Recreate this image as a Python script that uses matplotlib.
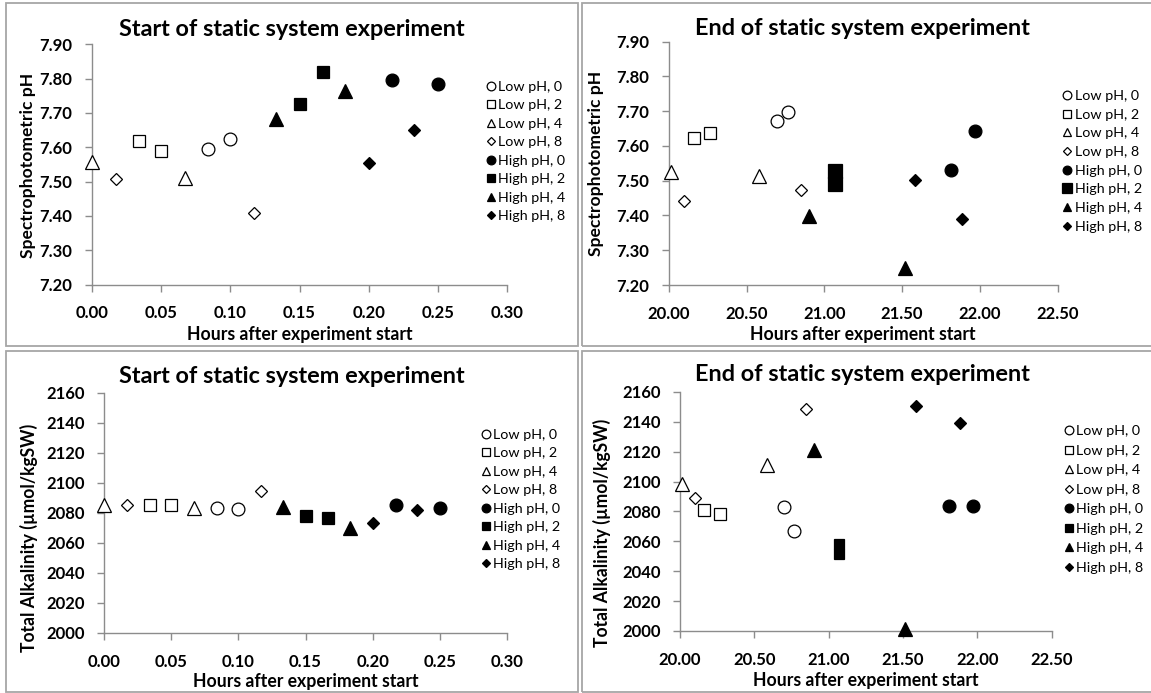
import matplotlib
matplotlib.use('Agg')
import matplotlib.pyplot as plt
from matplotlib.patches import Rectangle
from matplotlib.ticker import FormatStrFormatter

plt.rcParams['font.family'] = ['Lato', 'DejaVu Sans']

# ---------------- data ----------------
labels = ["Low pH, 0", "Low pH, 2", "Low pH, 4", "Low pH, 8",
          "High pH, 0", "High pH, 2", "High pH, 4", "High pH, 8"]

start_hours = [[0.084, 0.100], [0.034, 0.050], [0.000, 0.067], [0.017, 0.117],
               [0.217, 0.250], [0.150, 0.167], [0.133, 0.183], [0.200, 0.233]]
start_ph = [[7.595, 7.624], [7.619, 7.590], [7.556, 7.510], [7.507, 7.408],
            [7.796, 7.785], [7.726, 7.818], [7.683, 7.765], [7.554, 7.651]]
start_ta = [[2082.9, 2082.4], [2085.3, 2084.9], [2084.9, 2083.1], [2085.1, 2094.4],
            [2085.1, 2082.9], [2077.6, 2076.2], [2083.8, 2070.0], [2073.3, 2081.8]]

end_hours = [[20.697, 20.766], [20.164, 20.267], [20.015, 20.583], [20.100, 20.849],
             [21.812, 21.968], [21.066, 21.066], [20.903, 21.516], [21.585, 21.883]]
end_ph = [[7.673, 7.697], [7.622, 7.636], [7.526, 7.514], [7.443, 7.473],
          [7.530, 7.642], [7.527, 7.492], [7.398, 7.248], [7.501, 7.390]]
end_ta = [[2082.8, 2066.9], [2081.2, 2078.1], [2098.2, 2111.1], [2089.3, 2148.8],
          [2083.7, 2083.7], [2058.5, 2051.3], [2121.2, 2001.6], [2150.4, 2139.0]]

start_xticks = [0.00, 0.05, 0.10, 0.15, 0.20, 0.25, 0.30]
end_xticks = [20.00, 20.50, 21.00, 21.50, 22.00, 22.50]
ph_yticks = [7.20, 7.30, 7.40, 7.50, 7.60, 7.70, 7.80, 7.90]
ta_yticks = [2000, 2020, 2040, 2060, 2080, 2100, 2120, 2140, 2160]

title_start = "Start of static system experiment"
title_end = "End of static system experiment"
xlabel = "Hours after experiment start"
ylabel_ph = "Spectrophotometric pH"
ylabel_ta = "Total Alkalinity (\u00b5mol/kgSW)"

# ---------------- style ----------------
W, H = 1151, 693
fig = plt.figure(figsize=(W / 100, H / 100), dpi=100)


def rend():
    return fig.canvas.get_renderer()


def size_for(s, target_px, weight='bold', base=10.0):
    t = fig.text(0, 0, s, fontsize=base, fontweight=weight)
    w = t.get_window_extent(rend()).width
    t.remove()
    return base * target_px / w


FS_TITLE = size_for(title_start, 347)
FS_XLAB = size_for(xlabel, 226)
FS_YLAB_PH = size_for(ylabel_ph, 185)
FS_YLAB_TA = size_for(ylabel_ta, 228)
FS_TICK = size_for("0.00", 33)
FS_LEG = size_for("High pH, 0", 67, weight='normal')

markers = ['o', 's', '^', 'D', 'o', 's', '^', 'D']
fills = ['white'] * 4 + ['black'] * 4
msizes = {'o': 9.2, 's': 9.2, '^': 9.5, 'D': 5.9}
AX_GRAY = '#8c8c8c'


def fr(left, top, right, bottom):
    return [left / W, 1 - bottom / H, (right - left) / W, (bottom - top) / H]


panels = [
    dict(rect=fr(92, 44.3, 507, 284.5), box=(5.7, 3.3, 577.7, 345.7),
         x=start_hours, y=start_ph, xt=start_xticks, yt=ph_yticks,
         xfmt='%.2f', yfmt='%.2f', title=title_start, tpos=(292, 36),
         ylab=ylabel_ph, yfs=FS_YLAB_PH, ylpos=(28, 165), xlb=340,
         leg=(490.5, 86, 215), sq=9.2),
    dict(rect=fr(668.8, 41.7, 1057.5, 285), box=(582.3, 3.3, 1153, 345.7),
         x=end_hours, y=end_ph, xt=end_xticks, yt=ph_yticks,
         xfmt='%.2f', yfmt='%.2f', title=title_end, tpos=(862.4, 35),
         ylab=ylabel_ph, yfs=FS_YLAB_PH, ylpos=(595.5, 163.5), xlb=340,
         leg=(1067.3, 95, 225.7), sq=9.8),
    dict(rect=fr(104, 392.7, 507, 632.7), box=(5.7, 351, 577.7, 692),
         x=start_hours, y=start_ta, xt=start_xticks, yt=ta_yticks,
         xfmt='%.2f', yfmt='%d', title=title_start, tpos=(291.7, 383.3),
         ylab=ylabel_ta, yfs=FS_YLAB_TA, ylpos=(28.5, 537.5), xlb=687.5,
         leg=(485.7, 433.7, 563.3), sq=9.2),
    dict(rect=fr(680.1, 392, 1051.6, 631), box=(582.3, 351, 1153, 692),
         x=end_hours, y=end_ta, xt=end_xticks, yt=ta_yticks,
         xfmt='%.2f', yfmt='%d', title=title_end, tpos=(862.4, 381),
         ylab=ylabel_ta, yfs=FS_YLAB_TA, ylpos=(601.5, 532.7), xlb=686,
         leg=(1068.5, 430.3, 566.7), sq=7.8),
]


def make_legend(ax, handles, anchor, ls):
    return ax.legend(handles=handles, loc='upper left',
                     bbox_to_anchor=(anchor[0] / W, 1 - anchor[1] / H),
                     bbox_transform=fig.transFigure, frameon=False,
                     borderpad=0, borderaxespad=0, handlelength=0.6,
                     handletextpad=0.24, labelspacing=ls, markerscale=0.68,
                     fontsize=FS_LEG)


legend_jobs = []

for p in panels:
    x0, y0, x1, y1 = p['box']
    fig.add_artist(Rectangle((x0 / W, 1 - y1 / H), (x1 - x0) / W, (y1 - y0) / H,
                             transform=fig.transFigure, fill=False,
                             ec='#a6a6a6', lw=1.3))

    ax = fig.add_axes(p['rect'])
    handles = []
    for xs, ys, m, fc, lab in zip(p['x'], p['y'], markers, fills, labels):
        ms = msizes[m]
        if m == 's' and fc == 'black':
            ms = p['sq']
        h, = ax.plot(xs, ys, ls='none', marker=m, ms=ms, mfc=fc, mec='black',
                     mew=0.9, clip_on=False, label=lab, zorder=3)
        handles.append(h)

    ax.set_xlim(p['xt'][0], p['xt'][-1])
    ax.set_ylim(p['yt'][0], p['yt'][-1])
    ax.set_xticks(p['xt'])
    ax.set_yticks(p['yt'])
    ax.xaxis.set_major_formatter(FormatStrFormatter(p['xfmt']))
    ax.yaxis.set_major_formatter(FormatStrFormatter(p['yfmt']))
    for s in ('top', 'right'):
        ax.spines[s].set_visible(False)
    for s in ('left', 'bottom'):
        ax.spines[s].set_color(AX_GRAY)
        ax.spines[s].set_linewidth(1.0)
    ax.tick_params(axis='both', direction='out', length=5, width=1.0,
                   color=AX_GRAY, labelsize=FS_TICK)
    ax.tick_params(axis='x', pad=10)
    ax.tick_params(axis='y', pad=9)
    for t in ax.get_xticklabels() + ax.get_yticklabels():
        t.set_fontweight('bold')

    ax.set_xlabel(xlabel, fontsize=FS_XLAB, fontweight='bold', va='baseline')
    ax.xaxis.set_label_coords((p['rect'][0] + p['rect'][2] / 2), 1 - p['xlb'] / H,
                              transform=fig.transFigure)
    ax.set_ylabel(p['ylab'], fontsize=p['yfs'], fontweight='bold', va='center')
    ax.yaxis.set_label_coords(p['ylpos'][0] / W, 1 - p['ylpos'][1] / H,
                              transform=fig.transFigure)

    fig.text(p['tpos'][0] / W, 1 - p['tpos'][1] / H, p['title'],
             ha='center', va='baseline', fontsize=FS_TITLE, fontweight='bold')

    legend_jobs.append((ax, handles, p['leg']))

# fit legend placement and row spacing to the reference positions
fs_px = FS_LEG * 100 / 72
for ax, handles, (mx, yf, yl) in legend_jobs:
    anchor = [mx - 5, yf - 8]
    ls = 0.4
    for _ in range(3):
        leg = make_legend(ax, handles, anchor, ls)
        fig.canvas.draw()
        r = rend()
        hb = leg.legend_handles
        b0 = hb[0].get_window_extent(r)
        bn = hb[-1].get_window_extent(r)
        cx0 = (b0.x0 + b0.x1) / 2
        cy0 = H - (b0.y0 + b0.y1) / 2
        cyn = H - (bn.y0 + bn.y1) / 2
        actual = (cyn - cy0) / 7
        target = (yl - yf) / 7
        ls += (target - actual) / fs_px
        anchor[0] += mx - cx0
        anchor[1] += yf - cy0
    make_legend(ax, handles, anchor, ls)

fig.savefig('out.png', dpi=100)
